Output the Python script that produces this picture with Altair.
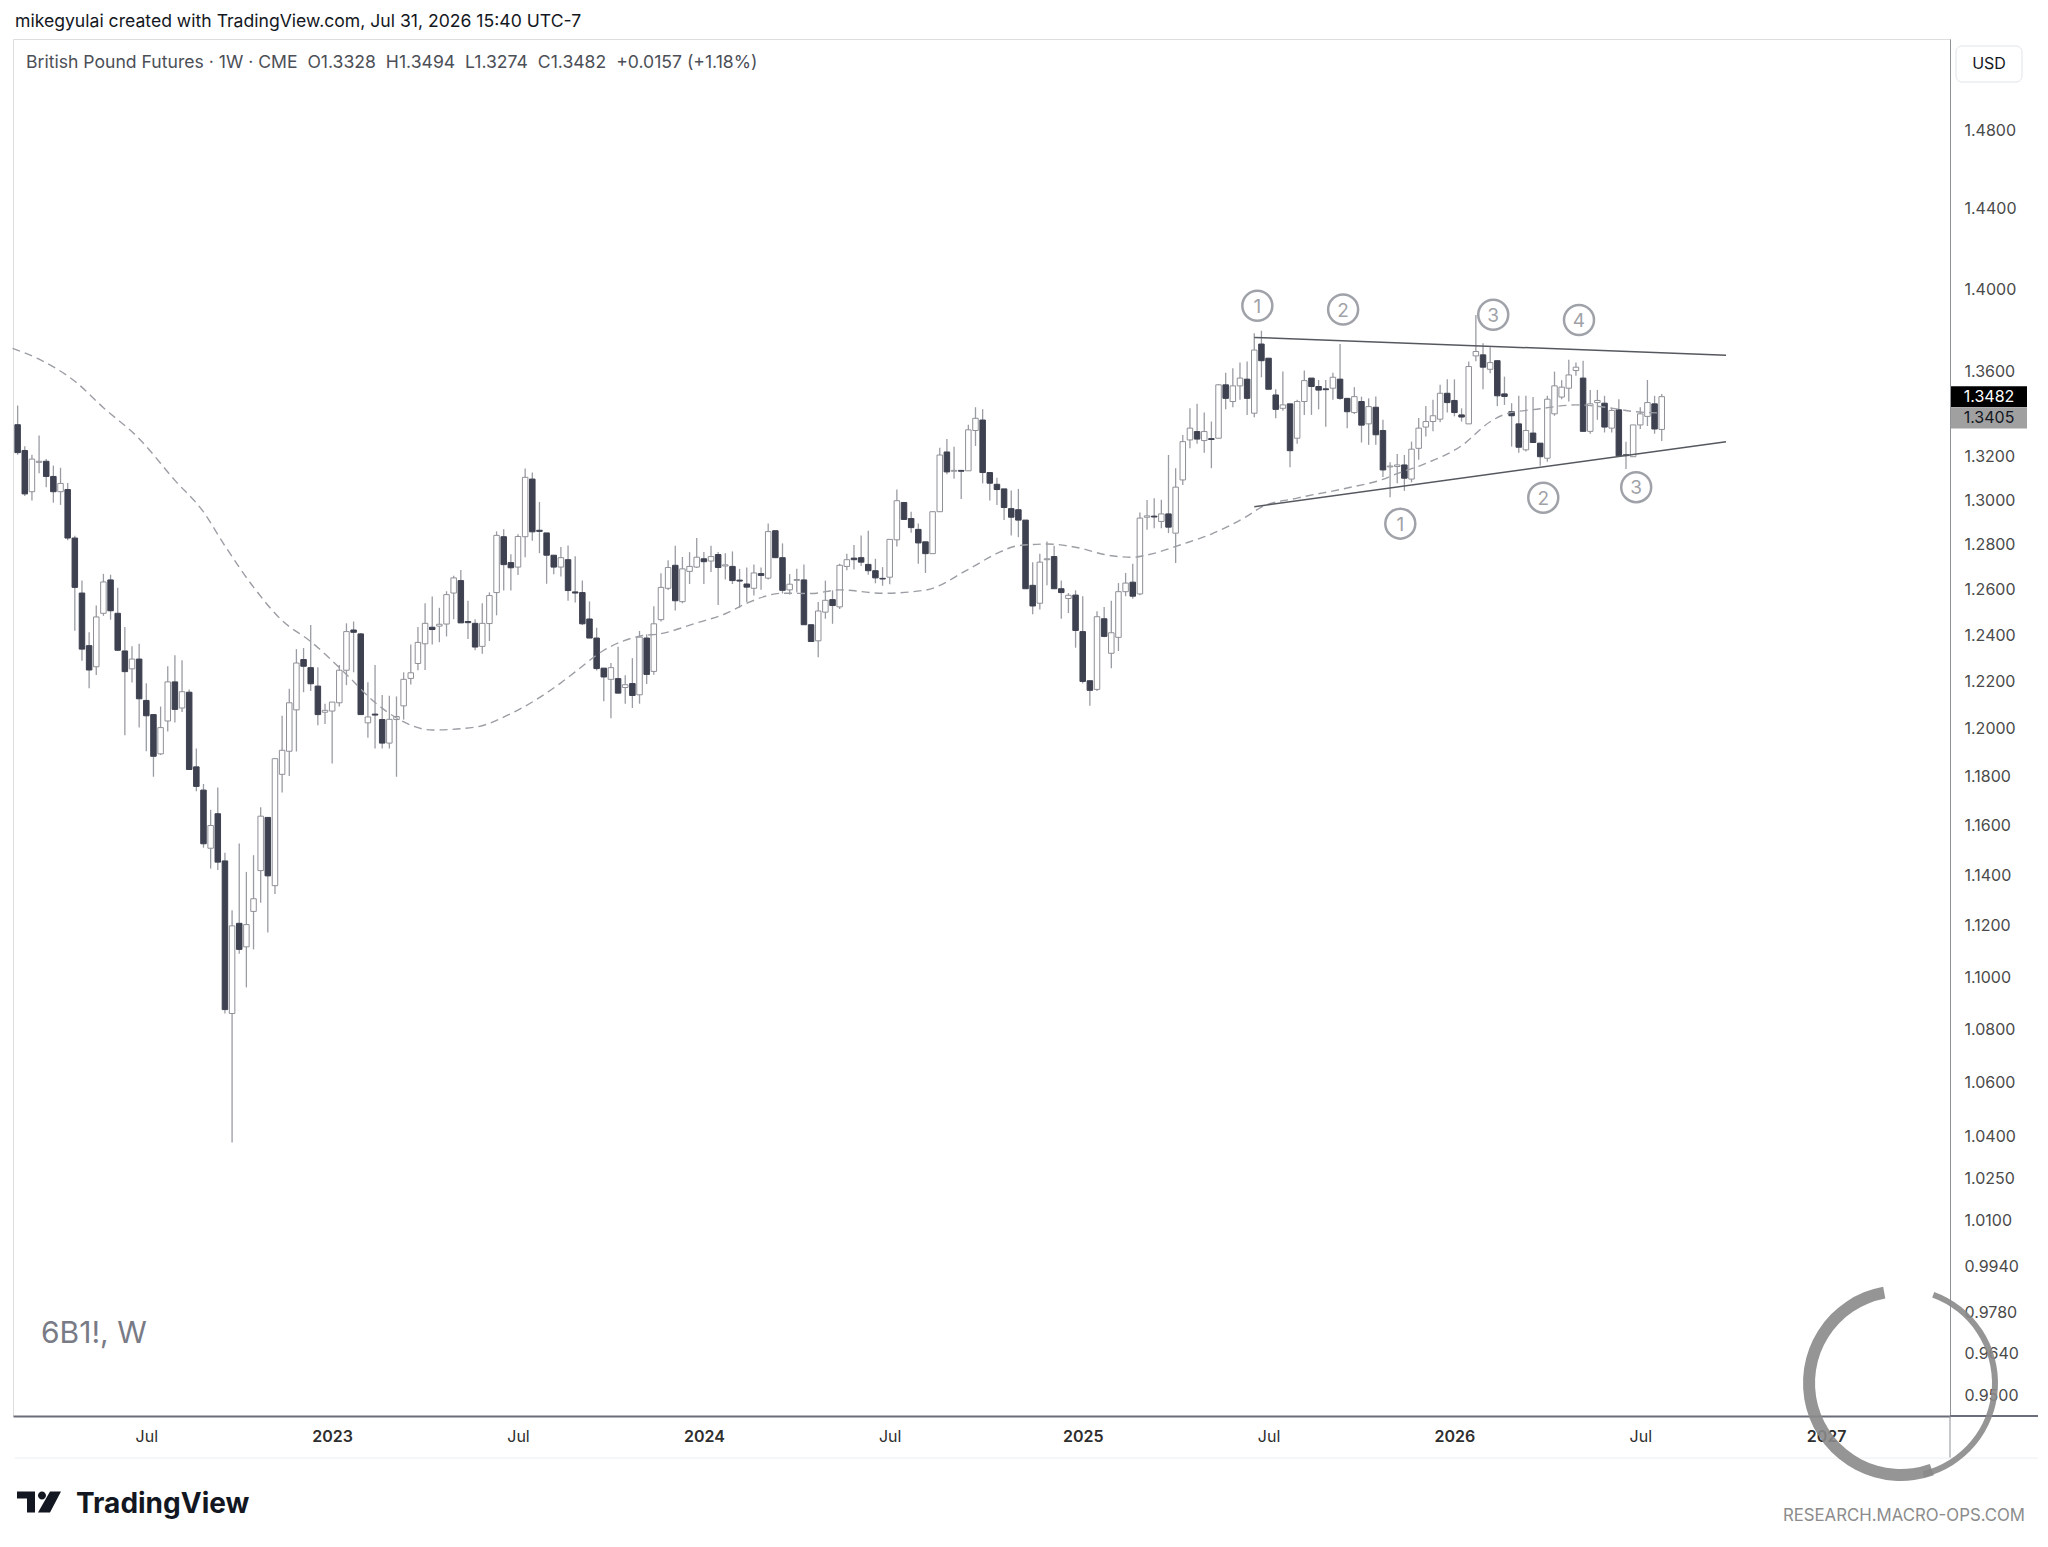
import altair as alt
import pandas as pd

# ---------------- data ----------------
first_week = "2022-02-28"
n_weeks = 231

opens = [
    1.3350, 1.3230, 1.3040, 1.3175, 1.3180, 1.3110, 1.3040, 1.3050, 1.2830, 1.2585,
    1.2355, 1.2264, 1.2496, 1.2643, 1.2496, 1.2332, 1.2255, 1.2297, 1.2120, 1.2060,
    1.1895, 1.2033, 1.2199, 1.2088, 1.2155, 1.1841, 1.1745, 1.1508, 1.1648, 1.1457,
    1.0860, 1.1209, 1.1117, 1.1256, 1.1418, 1.1633, 1.1358, 1.1810, 1.1906, 1.2080,
    1.2295, 1.2260, 1.2181, 1.2070, 1.2075, 1.2110, 1.2249, 1.2423, 1.2406, 1.2025,
    1.2062, 1.2039, 1.1940, 1.2039, 1.2097, 1.2214, 1.2278, 1.2363, 1.2435, 1.2440,
    1.2449, 1.2585, 1.2640, 1.2460, 1.2452, 1.2352, 1.2451, 1.2587, 1.2836, 1.2720,
    1.2700, 1.2836, 1.3098, 1.2865, 1.2853, 1.2753, 1.2700, 1.2733, 1.2590, 1.2587,
    1.2471, 1.2388, 1.2258, 1.2210, 1.2213, 1.2175, 1.2192, 1.2144, 1.2388, 1.2244,
    1.2468, 1.2606, 1.2708, 1.2547, 1.2681, 1.2700, 1.2737, 1.2727, 1.2756, 1.2705,
    1.2703, 1.2642, 1.2625, 1.2606, 1.2671, 1.2651, 1.2863, 1.2742, 1.2599, 1.2641,
    1.2643, 1.2446, 1.2376, 1.2501, 1.2556, 1.2524, 1.2703, 1.2740, 1.2742, 1.2712,
    1.2684, 1.2650, 1.2655, 1.2822, 1.2991, 1.2918, 1.2869, 1.2813, 1.2760, 1.2949,
    1.3223, 1.3134, 1.3138, 1.3136, 1.3323, 1.3372, 1.3128, 1.3074, 1.3053, 1.2963,
    1.2958, 1.2911, 1.2619, 1.2540, 1.2733, 1.2747, 1.2604, 1.2561, 1.2576, 1.2416,
    1.2204, 1.2167, 1.2472, 1.2322, 1.2391, 1.2591, 1.2633, 1.2581, 1.2924, 1.2929,
    1.2905, 1.2939, 1.2852, 1.3094, 1.3279, 1.3318, 1.3276, 1.3285, 1.3287, 1.3538,
    1.3459, 1.3533, 1.3565, 1.3404, 1.3733, 1.3665, 1.3490, 1.3427, 1.3448, 1.3287,
    1.3459, 1.3570, 1.3530, 1.3519, 1.3522, 1.3565, 1.3474, 1.3407, 1.3459, 1.3354,
    1.3432, 1.3323, 1.3154, 1.3156, 1.3163, 1.3098, 1.3240, 1.3339, 1.3365, 1.3376,
    1.3498, 1.3464, 1.3396, 1.3354, 1.3676, 1.3681, 1.3612, 1.3653, 1.3495, 1.3411,
    1.3354, 1.3233, 1.3311, 1.3264, 1.3194, 1.3401, 1.3480, 1.3522, 1.3606, 1.3570,
    1.3319, 1.3454, 1.3451, 1.3334, 1.3420, 1.3210, 1.3201, 1.3349, 1.3389, 1.3448,
    1.3328,
]
highs = [
    1.3440, 1.3250, 1.3210, 1.3300, 1.3190, 1.3160, 1.3150, 1.3080, 1.2840, 1.2640,
    1.2413, 1.2530, 1.2670, 1.2666, 1.2608, 1.2436, 1.2352, 1.2363, 1.2193, 1.2060,
    1.2094, 1.2266, 1.2314, 1.2292, 1.2166, 1.1917, 1.1770, 1.1664, 1.1756, 1.1490,
    1.1260, 1.1527, 1.1413, 1.1480, 1.1675, 1.1633, 1.1875, 1.2055, 1.2170, 1.2340,
    1.2345, 1.2445, 1.2262, 1.2106, 1.2113, 1.2272, 1.2452, 1.2460, 1.2410, 1.2198,
    1.2272, 1.2143, 1.2140, 1.2137, 1.2240, 1.2360, 1.2436, 1.2540, 1.2570, 1.2520,
    1.2593, 1.2662, 1.2687, 1.2551, 1.2470, 1.2540, 1.2588, 1.2860, 1.2870, 1.2757,
    1.2847, 1.3147, 1.3128, 1.2993, 1.2853, 1.2753, 1.2790, 1.2797, 1.2748, 1.2640,
    1.2548, 1.2433, 1.2258, 1.2280, 1.2350, 1.2227, 1.2301, 1.2419, 1.2405, 1.2527,
    1.2673, 1.2730, 1.2795, 1.2745, 1.2767, 1.2830, 1.2767, 1.2795, 1.2767, 1.2762,
    1.2770, 1.2692, 1.2698, 1.2712, 1.2698, 1.2896, 1.2863, 1.2806, 1.2669, 1.2693,
    1.2712, 1.2446, 1.2546, 1.2640, 1.2597, 1.2715, 1.2760, 1.2799, 1.2842, 1.2863,
    1.2737, 1.2700, 1.2824, 1.3050, 1.2991, 1.2949, 1.2896, 1.2813, 1.2949, 1.3243,
    1.3283, 1.3247, 1.3138, 1.3350, 1.3432, 1.3423, 1.3128, 1.3104, 1.3053, 1.3046,
    1.3053, 1.2911, 1.2722, 1.2760, 1.2814, 1.2795, 1.2640, 1.2585, 1.2597, 1.2571,
    1.2204, 1.2505, 1.2524, 1.2551, 1.2629, 1.2674, 1.2715, 1.2945, 1.3002, 1.3010,
    1.3003, 1.3209, 1.3148, 1.3302, 1.3427, 1.3448, 1.3407, 1.3365, 1.3541, 1.3596,
    1.3617, 1.3644, 1.3649, 1.3785, 1.3797, 1.3665, 1.3517, 1.3601, 1.3448, 1.3467,
    1.3606, 1.3570, 1.3561, 1.3561, 1.3596, 1.3733, 1.3474, 1.3527, 1.3482, 1.3474,
    1.3483, 1.3373, 1.3175, 1.3214, 1.3209, 1.3271, 1.3381, 1.3438, 1.3467, 1.3538,
    1.3564, 1.3564, 1.3427, 1.3649, 1.3874, 1.3737, 1.3718, 1.3653, 1.3577, 1.3451,
    1.3486, 1.3486, 1.3480, 1.3264, 1.3486, 1.3601, 1.3560, 1.3657, 1.3644, 1.3653,
    1.3514, 1.3514, 1.3486, 1.3427, 1.3470, 1.3271, 1.3349, 1.3432, 1.3561, 1.3486,
    1.3494,
]
lows = [
    1.3210, 1.3020, 1.3000, 1.3125, 1.3060, 1.2990, 1.2980, 1.2820, 1.2420, 1.2290,
    1.2172, 1.2228, 1.2485, 1.2468, 1.2333, 1.1973, 1.2196, 1.2005, 1.1906, 1.1800,
    1.1890, 1.1989, 1.2027, 1.2071, 1.1828, 1.1740, 1.1510, 1.1426, 1.1420, 1.0860,
    1.0380, 1.1090, 1.0960, 1.1107, 1.1290, 1.1173, 1.1325, 1.1735, 1.1803, 1.1905,
    1.2155, 1.2160, 1.2015, 1.2020, 1.1855, 1.2094, 1.2185, 1.2240, 1.2060, 1.1962,
    1.1917, 1.1917, 1.1917, 1.1800, 1.2039, 1.2188, 1.2249, 1.2250, 1.2360, 1.2370,
    1.2395, 1.2470, 1.2454, 1.2384, 1.2335, 1.2320, 1.2375, 1.2487, 1.2596, 1.2596,
    1.2665, 1.2744, 1.2818, 1.2762, 1.2626, 1.2668, 1.2658, 1.2551, 1.2543, 1.2445,
    1.2388, 1.2248, 1.2116, 1.2045, 1.2151, 1.2106, 1.2088, 1.2106, 1.2190, 1.2230,
    1.2460, 1.2598, 1.2508, 1.2540, 1.2625, 1.2696, 1.2625, 1.2678, 1.2532, 1.2645,
    1.2625, 1.2520, 1.2545, 1.2574, 1.2599, 1.2645, 1.2742, 1.2583, 1.2578, 1.2587,
    1.2446, 1.2373, 1.2305, 1.2472, 1.2450, 1.2515, 1.2686, 1.2689, 1.2705, 1.2666,
    1.2628, 1.2617, 1.2624, 1.2792, 1.2914, 1.2854, 1.2715, 1.2674, 1.2760, 1.2949,
    1.3120, 1.3099, 1.3007, 1.3136, 1.3251, 1.3078, 1.3000, 1.2979, 1.2911, 1.2842,
    1.2834, 1.2604, 1.2492, 1.2513, 1.2619, 1.2604, 1.2472, 1.2497, 1.2346, 1.2192,
    1.2097, 1.2160, 1.2391, 1.2257, 1.2332, 1.2571, 1.2560, 1.2575, 1.2867, 1.2874,
    1.2874, 1.2852, 1.2718, 1.3071, 1.3240, 1.3261, 1.3220, 1.3148, 1.3287, 1.3422,
    1.3432, 1.3467, 1.3396, 1.3385, 1.3574, 1.3517, 1.3380, 1.3416, 1.3152, 1.3261,
    1.3396, 1.3396, 1.3422, 1.3341, 1.3467, 1.3467, 1.3333, 1.3400, 1.3267, 1.3256,
    1.3256, 1.3107, 1.3015, 1.3079, 1.3044, 1.3083, 1.3187, 1.3295, 1.3319, 1.3361,
    1.3407, 1.3389, 1.3365, 1.3354, 1.3650, 1.3517, 1.3593, 1.3438, 1.3443, 1.3248,
    1.3220, 1.3225, 1.3267, 1.3159, 1.3178, 1.3392, 1.3470, 1.3459, 1.3581, 1.3319,
    1.3308, 1.3373, 1.3314, 1.3314, 1.3205, 1.3144, 1.3201, 1.3330, 1.3344, 1.3308,
    1.3274,
]
closes = [
    1.3220, 1.3030, 1.3190, 1.3180, 1.3110, 1.3040, 1.3078, 1.2830, 1.2610, 1.2340,
    1.2250, 1.2480, 1.2634, 1.2507, 1.2335, 1.2243, 1.2297, 1.2127, 1.2055, 1.1885,
    1.2005, 1.2199, 1.2082, 1.2157, 1.1830, 1.1760, 1.1526, 1.1600, 1.1452, 1.0875,
    1.1199, 1.1107, 1.1204, 1.1306, 1.1638, 1.1397, 1.1875, 1.1910, 1.2110, 1.2280,
    1.2266, 1.2191, 1.2060, 1.2078, 1.2113, 1.2249, 1.2416, 1.2413, 1.2060, 1.2050,
    1.2058, 1.1940, 1.2040, 1.2052, 1.2210, 1.2238, 1.2369, 1.2452, 1.2425, 1.2448,
    1.2578, 1.2652, 1.2454, 1.2455, 1.2349, 1.2452, 1.2574, 1.2842, 1.2711, 1.2697,
    1.2837, 1.3106, 1.2858, 1.2860, 1.2753, 1.2700, 1.2742, 1.2596, 1.2585, 1.2450,
    1.2388, 1.2256, 1.2220, 1.2260, 1.2151, 1.2187, 1.2141, 1.2392, 1.2231, 1.2450,
    1.2610, 1.2698, 1.2551, 1.2692, 1.2703, 1.2744, 1.2724, 1.2747, 1.2698, 1.2710,
    1.2640, 1.2638, 1.2611, 1.2674, 1.2663, 1.2859, 1.2742, 1.2597, 1.2624, 1.2645,
    1.2446, 1.2373, 1.2506, 1.2553, 1.2530, 1.2708, 1.2733, 1.2733, 1.2722, 1.2684,
    1.2652, 1.2647, 1.2824, 1.2999, 1.2914, 1.2877, 1.2808, 1.2760, 1.2949, 1.3209,
    1.3131, 1.3138, 1.3134, 1.3326, 1.3380, 1.3128, 1.3079, 1.3050, 1.2968, 1.2924,
    1.2911, 1.2604, 1.2528, 1.2722, 1.2737, 1.2604, 1.2587, 1.2575, 1.2421, 1.2201,
    1.2163, 1.2481, 1.2395, 1.2411, 1.2591, 1.2629, 1.2571, 1.2920, 1.2930, 1.2925,
    1.2939, 1.2879, 1.3061, 1.3271, 1.3334, 1.3283, 1.3318, 1.3281, 1.3538, 1.3474,
    1.3533, 1.3570, 1.3474, 1.3704, 1.3653, 1.3517, 1.3422, 1.3443, 1.3229, 1.3459,
    1.3558, 1.3530, 1.3513, 1.3515, 1.3574, 1.3474, 1.3411, 1.3482, 1.3348, 1.3435,
    1.3303, 1.3140, 1.3158, 1.3163, 1.3102, 1.3236, 1.3334, 1.3365, 1.3392, 1.3498,
    1.3454, 1.3407, 1.3386, 1.3625, 1.3697, 1.3622, 1.3644, 1.3486, 1.3483, 1.3392,
    1.3245, 1.3323, 1.3267, 1.3201, 1.3470, 1.3533, 1.3527, 1.3585, 1.3622, 1.3319,
    1.3448, 1.3464, 1.3339, 1.3417, 1.3205, 1.3206, 1.3349, 1.3401, 1.3454, 1.3330,
    1.3482,
]

# dashed moving average
ma_dates = ["2022-02-23", "2022-03-21", "2022-04-25", "2022-05-23", "2022-06-27",
            "2022-08-01", "2022-08-29", "2022-09-19", "2022-10-17", "2022-11-14",
            "2022-12-12", "2023-01-16", "2023-02-13", "2023-03-06", "2023-04-10",
            "2023-05-22", "2023-06-26", "2023-08-14", "2023-08-28", "2023-09-25",
            "2023-10-30", "2023-11-20", "2023-12-25", "2024-01-22", "2024-02-12",
            "2024-03-18", "2024-04-15", "2024-05-13", "2024-06-24", "2024-08-05",
            "2024-09-16", "2024-10-14", "2024-11-04", "2024-12-02", "2025-01-06",
            "2025-01-27", "2025-02-24", "2025-03-10", "2025-04-14", "2025-05-12",
            "2025-06-16", "2025-06-30", "2025-08-04", "2025-09-22", "2025-10-27",
            "2025-11-10", "2025-12-08", "2026-01-12", "2026-02-09", "2026-02-23",
            "2026-03-30", "2026-05-04", "2026-06-08", "2026-06-29", "2026-07-27"]
ma_value = [1.3712, 1.3660, 1.3555, 1.3430, 1.3285, 1.3092, 1.2948, 1.2795, 1.2611, 1.2464,
            1.2373, 1.2231, 1.2111, 1.2046, 1.1995, 1.2007, 1.2064, 1.2195, 1.2242, 1.2335,
            1.2396, 1.2407, 1.2454, 1.2494, 1.2540, 1.2584, 1.2583, 1.2599, 1.2584, 1.2598,
            1.2690, 1.2761, 1.2796, 1.2803, 1.2782, 1.2756, 1.2744, 1.2754, 1.2803, 1.2848,
            1.2929, 1.2970, 1.3011, 1.3057, 1.3097, 1.3123, 1.3170, 1.3252, 1.3364, 1.3398,
            1.3425, 1.3443, 1.3428, 1.3412, 1.3405]

# triangle trend lines
upper_dates = ["2025-06-23", "2026-09-28"]
upper_values = [1.3765, 1.3679]
lower_dates = ["2025-06-23", "2026-09-28"]
lower_values = [1.2972, 1.3270]

# numbered circle markers
circle_dates = ["2025-06-26", "2025-09-18", "2026-02-12", "2026-05-07",
                "2025-11-13", "2026-04-02", "2026-07-02"]
circle_values = [1.3919, 1.3900, 1.3875, 1.3849, 1.2895, 1.3013, 1.3061]
circle_labels = ["1", "2", "3", "4", "1", "2", "3"]

# axes
y_tick_values = [1.48, 1.44, 1.40, 1.36, 1.32, 1.30, 1.28, 1.26, 1.24, 1.22, 1.20, 1.18,
                 1.16, 1.14, 1.12, 1.10, 1.08, 1.06, 1.04, 1.025, 1.01, 0.994, 0.978,
                 0.964, 0.95]
x_tick_dates = ["2022-07-04", "2023-01-02", "2023-07-03", "2024-01-01", "2024-07-01",
                "2025-01-06", "2025-07-07", "2026-01-05", "2026-07-06", "2027-01-04"]
x_tick_labels = ["Jul", "2023", "Jul", "2024", "Jul", "2025", "Jul", "2026", "Jul", "2027"]

last_close = 1.3482
last_ma = 1.3405

header = "mikegyulai created with TradingView.com, Jul 31, 2026 15:40 UTC-7"
legend = ("British Pound Futures \u00b7 1W \u00b7 CME \u00a0O1.3328 \u00a0H1.3494 \u00a0L1.3274 "
          "\u00a0C1.3482 \u00a0+0.0157 (+1.18%)")

# ---------------- build ----------------
FONT = "Inter"
W, H = 1937, 1377

dates = pd.date_range(first_week, periods=n_weeks, freq="7D")
df = pd.DataFrame({
    "date": dates.strftime("%Y-%m-%d"),
    "open": opens, "high": highs, "low": lows, "close": closes,
})


def ms(ts):
    return int(pd.Timestamp(ts).value // 10**6)


start = pd.Timestamp(first_week)
x_domain = [ms(start - pd.Timedelta(days=4.54)), ms(start + pd.Timedelta(days=1892.3))]
x_scale = alt.Scale(type="utc", domain=x_domain, padding=0)
y_scale = alt.Scale(type="log", domain=[0.94309, 1.5283], nice=False, zero=False, padding=0)

label_expr = ""
for d, lab in zip(x_tick_dates, x_tick_labels):
    label_expr += f"+datum.value == {ms(d)} ? '{lab}' : "
label_expr += "''"

x_axis = alt.Axis(
    title="", values=[ms(d) for d in x_tick_dates], labelExpr=label_expr,
    labelFontWeight={"condition": {"test": "utcmonth(datum.value) == 0", "value": 600},
                     "value": 400},
    grid=False, ticks=False, domainColor="#6b6e78", domainWidth=2,
    labelPadding=12, labelFontSize=16, labelColor="#2e2e2e", labelFont=FONT,
    labelOverlap=False, labelFlush=False,
)
y_axis = alt.Axis(
    title="", orient="right", values=y_tick_values, format=".4f", grid=False,
    ticks=False, domainColor="#8f9299", domainWidth=1, labelPadding=14,
    labelFontSize=16, labelColor="#4a4a4a", labelFont=FONT, labelOverlap=False,
    labelAlign="left", labelBaseline="middle",
)


def X(field="date"):
    return alt.X(f"{field}:T", scale=x_scale, axis=x_axis)


def Y(field):
    return alt.Y(f"{field}:Q", scale=y_scale, axis=y_axis)


bear = "datum.close < datum.open"
DARK = "#3e4150"

wicks = alt.Chart(df).mark_rule(color="#9a9ca3", strokeWidth=1.3).encode(
    x=X(), y=Y("low"), y2="high:Q")
bodies = alt.Chart(df).mark_bar(size=5.5, strokeWidth=1).encode(
    x=X(), y=Y("open"), y2="close:Q",
    fill=alt.condition(bear, alt.value(DARK), alt.value("#ffffff")),
    stroke=alt.condition(bear, alt.value(DARK), alt.value("#8e9097")),
)

ma_df = pd.DataFrame({"date": ma_dates, "value": ma_value})
ma_line = alt.Chart(ma_df).mark_line(
    strokeDash=[8, 5], color="#9b9ea4", strokeWidth=1.4, interpolate="monotone"
).encode(x=X(), y=Y("value"))

tl_df = pd.DataFrame({
    "date": upper_dates + lower_dates,
    "value": upper_values + lower_values,
    "line": ["upper"] * len(upper_dates) + ["lower"] * len(lower_dates),
})
trend = alt.Chart(tl_df).mark_line(color="#55585f", strokeWidth=1.5).encode(
    x=X(), y=Y("value"), detail="line:N")

c_df = pd.DataFrame({"date": circle_dates, "value": circle_values, "label": circle_labels})
circles = alt.Chart(c_df).mark_point(
    shape="circle", size=900, filled=False, color="#9fa2a8", strokeWidth=2.5, opacity=1
).encode(x=X(), y=Y("value"))
circle_txt = alt.Chart(c_df).mark_text(
    font=FONT, fontSize=19, color="#9fa2a8", align="center", baseline="middle", dy=1
).encode(x=X(), y=Y("value"), text="label:N")

BOX = "M-1,-0.276 L1,-0.276 L1,0.276 L-1,0.276 Z"
p_df = pd.DataFrame({"value": [last_close], "label": [f"{last_close:.4f}"]})
m_df = pd.DataFrame({"value": [last_ma], "label": [f"{last_ma:.4f}"]})
box_close = alt.Chart(p_df).mark_point(
    shape=BOX, size=76 * 76, filled=True, color="#000000", opacity=1
).encode(x=alt.value(1976), y=Y("value"))
txt_close = alt.Chart(p_df).mark_text(
    font=FONT, fontSize=16, color="#ffffff", align="center", baseline="middle"
).encode(x=alt.value(1976), y=Y("value"), text="label:N")
box_ma = alt.Chart(m_df).mark_point(
    shape=BOX, size=76 * 76, filled=True, color="#a0a0a0", opacity=1, yOffset=5
).encode(x=alt.value(1976), y=Y("value"))
txt_ma = alt.Chart(m_df).mark_text(
    font=FONT, fontSize=16, color="#131722", align="center", baseline="middle", dy=5
).encode(x=alt.value(1976), y=Y("value"), text="label:N")

one = pd.DataFrame({"k": [0]})


def label(text, x, y, size, color, weight=400, align="left", baseline="middle"):
    return alt.Chart(pd.DataFrame({"t": [text]})).mark_text(
        font=FONT, fontSize=size, color=color, fontWeight=weight, align=align,
        baseline=baseline,
    ).encode(text="t:N", x=alt.value(x), y=alt.value(y))


usd_box = alt.Chart(one).mark_rect(
    cornerRadius=6, fill="#ffffff", stroke="#e0e3eb", strokeWidth=1
).encode(x=alt.value(1943), x2=alt.value(2009), y=alt.value(7), y2=alt.value(43))
axis_ext = alt.Chart(one).mark_rule(color="#6b6e78", strokeWidth=2).encode(
    x=alt.value(W), x2=alt.value(2027), y=alt.value(H))
vaxis_ext = alt.Chart(one).mark_rule(color="#8f9299", strokeWidth=1).encode(
    x=alt.value(W), y=alt.value(H), y2=alt.value(H + 42))
panel_bottom = alt.Chart(one).mark_rule(color="#eceef1", strokeWidth=1).encode(
    x=alt.value(2), x2=alt.value(2027), y=alt.value(H + 42))

LOGO = ("M-1,-0.477 L-0.182,-0.477 L-0.182,0.477 L-0.545,0.477 L-0.545,-0.159 "
        "L-1,-0.159 Z M0.136,-0.477 A0.182,0.182 0 1,1 0.136,-0.113 "
        "A0.182,0.182 0 1,1 0.136,-0.477 Z M0.5,-0.477 L1,-0.477 L0.5,0.477 "
        "L-0.045,0.477 Z")
logo = alt.Chart(one).mark_point(
    shape=LOGO, size=44 * 44, filled=True, color="#131722", opacity=1
).encode(x=alt.value(26), y=alt.value(1463))

ring_thick = alt.Chart(one).mark_arc(
    radius=98, radius2=86, theta=2.8, theta2=6.1, color="#8a8a8a", opacity=0.9
).encode(x=alt.value(1888), y=alt.value(1344))
ring_thin = alt.Chart(one).mark_arc(
    radius=97, radius2=91, theta=0.35, theta2=2.9, color="#8a8a8a", opacity=0.9
).encode(x=alt.value(1888), y=alt.value(1344))

chart = alt.layer(
    wicks, bodies, ma_line, trend, circles, circle_txt,
    box_close, txt_close, box_ma, txt_ma,
    usd_box, label("USD", 1976, 25, 16, "#131722", align="center"),
    axis_ext, vaxis_ext, panel_bottom,
    label(header, 2, -17, 17.6, "#131722"),
    label(legend, 13, 24, 17.6, "#4c4f57"),
    label("6B1!, W", 28, 1304, 30, "#787b86", baseline="alphabetic"),
    logo,
    label("TradingView", 63, 1474, 28, "#131722", weight=700, baseline="alphabetic"),
    label("RESEARCH.MACRO-OPS.COM", 2012, 1477, 16.8, "#8c8c8c", align="right"),
    ring_thick, ring_thin,
).properties(
    width=W, height=H,
    padding={"left": 5, "top": 31, "right": 88, "bottom": 118},
    autosize=alt.AutoSizeParams(type="none"),
).configure_view(stroke="#eceef1", strokeWidth=1).configure(font=FONT, background="#ffffff")

chart.save("out.html", embed_options={"renderer": "svg", "actions": False})
